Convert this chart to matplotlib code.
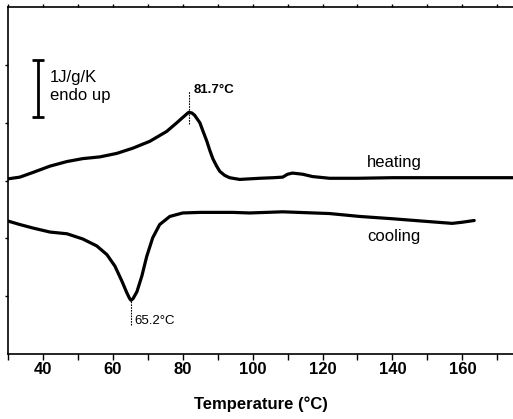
import matplotlib
matplotlib.use('Agg')
import matplotlib.pyplot as plt
import numpy as np

plt.rcParams['font.family'] = ['Liberation Sans', 'DejaVu Sans']

# heating curve (temperature in degC, heat flow in arbitrary units, endo up)
heat_t = [30, 33.4, 37.1, 42, 46.9, 51.4, 56.3, 61.1, 65.7, 70.6, 75.4, 78.3,
          79.6, 81.1, 81.7, 82.6, 83.4, 84.9, 85.7, 86.9, 87.7, 88.6, 89.7,
          90.6, 92, 93.4, 96.3, 99.1, 102, 106, 108.6, 110, 111.4, 114.3,
          117.1, 122, 130, 140, 150, 160, 174.5]
heat_y = [3.03, 3.06, 3.14, 3.25, 3.33, 3.38, 3.41, 3.47, 3.56, 3.68, 3.85, 4.0,
          4.07, 4.15, 4.18, 4.17, 4.13, 4.0, 3.87, 3.68, 3.53, 3.38, 3.25,
          3.16, 3.09, 3.05, 3.02, 3.03, 3.04, 3.05, 3.06, 3.11, 3.13, 3.11,
          3.07, 3.04, 3.04, 3.05, 3.05, 3.05, 3.05]

# cooling curve
cool_t = [30, 33.4, 37.1, 42, 46.9, 51.4, 55.4, 58.3, 60.6, 62.6, 64, 64.8,
          65.2, 65.8, 66.9, 68.3, 69.7, 71.4, 73.4, 76.3, 80, 84.9, 94.3,
          99.1, 108.6, 122, 130.6, 140, 150.6, 157.1, 160, 163.4]
cool_y = [2.30, 2.24, 2.18, 2.11, 2.08, 1.99, 1.87, 1.72, 1.52, 1.26, 1.06, 0.96,
          0.93, 0.96, 1.08, 1.35, 1.69, 2.01, 2.24, 2.38, 2.44, 2.45, 2.45,
          2.44, 2.46, 2.43, 2.38, 2.34, 2.29, 2.26, 2.28, 2.31]

xticks = [40, 60, 80, 100, 120, 140, 160]
peak_heat = 81.7
peak_cool = 65.2

fig = plt.figure(figsize=(5.13, 4.19), dpi=100)
ax = fig.add_axes([0.0156, 0.155, 0.9844, 0.828])

ax.plot(heat_t, heat_y, color='black', lw=2.3, solid_capstyle='round',
        solid_joinstyle='round')
ax.plot(cool_t, cool_y, color='black', lw=2.3, solid_capstyle='round',
        solid_joinstyle='round')

ax.set_xlim(30, 174.5)
ax.set_ylim(0, 6)

# peak markers
ax.plot([peak_heat, peak_heat], [3.98, 4.55], color='black', lw=0.8, ls=(0, (1.5, 1)))
ax.text(peak_heat + 1.4, 4.56, '81.7°C', fontsize=9.5, fontweight='bold',
        ha='left', va='center')
ax.plot([peak_cool, peak_cool], [0.5, 0.97], color='black', lw=0.8, ls=(0, (1.5, 1)))
ax.text(peak_cool + 1.0, 0.57, '65.2°C', fontsize=9.5, ha='left', va='center')

ax.text(140.5, 3.31, 'heating', fontsize=12, ha='center', va='center')
ax.text(140.3, 2.03, 'cooling', fontsize=12, ha='center', va='center')

# scale bar
ax.errorbar([38.6], [4.595], yerr=[[0.495], [0.495]], color='black', lw=2,
            capsize=4, capthick=2)
ax.text(42, 4.63, '1J/g/K\nendo up', fontsize=12, ha='left', va='center',
        linespacing=1.2)

ax.spines['right'].set_visible(False)
for s in ['left', 'bottom', 'top']:
    ax.spines[s].set_linewidth(1.2)

ax.set_xticks(xticks)
ax.set_xticks(np.arange(30, 175, 10), minor=True)
ax.set_yticks([1, 2, 3, 4, 5])
ax.set_yticklabels([])
ax.tick_params(axis='x', which='both', direction='out', length=4, width=1,
               labelsize=12, pad=2)
ax.tick_params(axis='x', which='both', top=True)
ax.xaxis.set_tick_params(which='both', labeltop=False)
ax.tick_params(axis='y', direction='out', length=2, width=1)
for t in ax.xaxis.get_major_ticks() + ax.xaxis.get_minor_ticks():
    t.tick2line.set_markersize(2)
for lab in ax.get_xticklabels():
    lab.set_fontweight('bold')

ax.set_xlabel('Temperature (°C)', fontsize=12, fontweight='bold', labelpad=14)

fig.savefig('out.png', dpi=100)
